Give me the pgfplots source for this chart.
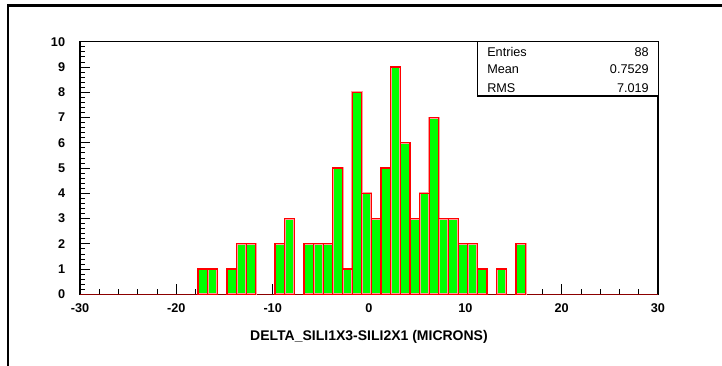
\documentclass[border=0pt]{standalone}
\usepackage{pgfplots}
\pgfplotsset{compat=1.18}
\usepackage{fontspec}
\setmainfont{Liberation Sans}

\definecolor{histfill}{RGB}{0,255,0}
\definecolor{histline}{RGB}{255,0,0}

% bin centre, entries (bin width 1)
\pgfplotstableread{
x      n
-17.25 1
-16.25 1
-14.25 1
-13.25 2
-12.25 2
-9.25  2
-8.25  3
-6.25  2
-5.25  2
-4.25  2
-3.25  5
-2.25  1
-1.25  8
-0.25  4
0.75   3
1.75   5
2.75   9
3.75   6
4.75   3
5.75   4
6.75   7
7.75   3
8.75   3
9.75   2
10.75  2
11.75  1
13.75  1
15.75  2
}\histdata

\begin{document}
\begin{tikzpicture}
% canvas: 722 x 365 px at 0.75 pt per px
\useasboundingbox[fill=white] (0pt,0pt) rectangle (541.5pt,273.75pt);
% pad frame (top and left edges)
\draw[line width=1.9pt, line cap=rect] (6pt,-2pt) -- (6pt,269.6pt) -- (545pt,269.6pt);

\begin{axis}[
  at={(60pt,53pt)}, anchor=south west,
  scale only axis,
  width=433.5pt, height=189.45pt,
  xmin=-30, xmax=30, ymin=0, ymax=10,
  axis line style={line width=0.9pt},
  xtick={-30,-20,...,30},
  xticklabels={-30,-20,-10,0,10,20,30},
  ytick={0,1,...,10},
  yticklabels={0,1,2,3,4,5,6,7,8,9,10},
  minor x tick num=4,
  minor y tick num=4,
  tick align=inside,
  xtick pos=lower, ytick pos=left,
  major tick length=7.5pt,
  minor tick length=3.75pt,
  every tick/.style={black, line width=0.6pt},
  tick label style={font=\fontsize{9.5}{11}\selectfont\bfseries, inner sep=0pt},
  xticklabel shift=7pt,
  yticklabel shift=11pt,
  xlabel={DELTA\_SILI1X3-SILI2X1 (MICRONS)},
  xlabel style={at={(axis description cs:0.5,0)}, anchor=north, yshift=-26.5pt,
    inner sep=0pt, font=\fontsize{10.5}{12}\selectfont\bfseries},
  clip=false,
]
% empty bins along the baseline
\addplot[draw=histline!55!black, line width=0.9pt] coordinates {(-30,0) (30,0)};
% bar bodies
\addplot[ybar, bar width=1, bar shift=0, fill=histfill, draw=none]
  table[x=x, y=n] {\histdata};
% bar outlines
\addplot[ybar, bar width=1, bar shift=0, fill=none, draw=histline,
  line width=0.9pt, preaction={draw=histline!40, line width=1.5pt}]
  table[x=x, y=n] {\histdata};
\end{axis}

% statistics box
\draw[line width=1.1pt, fill=white] (358.3pt,201.75pt) rectangle (493.7pt,242.5pt);
\begin{scope}[every node/.style={inner sep=0pt, font=\fontsize{9.5}{11}\selectfont}]
  \node[anchor=base west] at (365.25pt,231.5pt) {Entries};
  \node[anchor=base east] at (486.75pt,231.5pt) {88};
  \node[anchor=base west] at (365.25pt,218.3pt) {Mean};
  \node[anchor=base east] at (486.75pt,218.3pt) {0.7529};
  \node[anchor=base west] at (365.25pt,204.5pt) {RMS};
  \node[anchor=base east] at (486.75pt,204.5pt) {7.019};
\end{scope}
\end{tikzpicture}
\end{document}
